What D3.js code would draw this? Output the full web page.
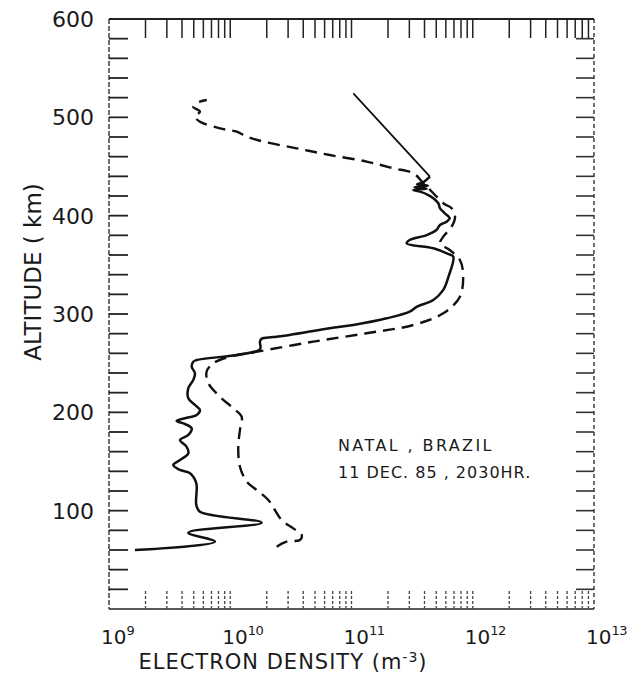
<!DOCTYPE html>
<html>
<head>
<meta charset="utf-8">
<script src="https://cdn.jsdelivr.net/npm/d3@7"></script>
<style>
  body { margin: 0; background: #fff; }
  text { font-family: "DejaVu Sans", sans-serif; fill: #1a1a1a; }
</style>
</head>
<body>
<svg width="628" height="681"></svg>
<script>
// altitude (km) and log10 electron density (m^-3)
const solidAlt = [60, 68.5, 77.6, 87.8, 99, 105.8, 127.8, 138, 141.4, 146.4, 151.5, 158.3, 165, 171.9, 177,
  183.8, 188.8, 191.2, 194, 197.3, 202.4, 207.5, 214.3, 224.5, 232.9, 239.7, 246.4, 251.5, 253.2, 258.3,
  263.4, 266, 272, 275, 276.5, 278.7, 285.5, 288.8, 295.6, 302.4, 307.5, 314.3, 324.5, 338, 358.3, 361,
  366.8, 371.9, 375.3, 380.3, 385.4, 390.5, 393.9, 397.3, 402.4, 407.5, 412.6, 417.7, 421, 424.4,
  426, 427.5, 429, 430.5, 432, 434.2, 439.7, 524.4];
const solidLogNe = [9.214, 9.874, 9.654, 10.259, 9.75, 9.72, 9.72, 9.668, 9.586, 9.53, 9.586, 9.654, 9.64, 9.586, 9.654,
  9.682, 9.613, 9.558, 9.627, 9.723, 9.75, 9.709, 9.654, 9.654, 9.695, 9.709, 9.682, 9.695, 9.723, 10.053,
  10.24, 10.25, 10.245, 10.26, 10.35, 10.49, 10.82, 11.015, 11.29, 11.48, 11.54, 11.675, 11.757, 11.80, 11.84, 11.80,
  11.675, 11.455, 11.48, 11.62, 11.70, 11.73, 11.785, 11.81, 11.77, 11.73, 11.716, 11.675, 11.634, 11.565,
  11.51, 11.62, 11.52, 11.63, 11.54, 11.593, 11.647, 11.015];

const dashAlt = [63.4, 68.5, 70.2, 75.3, 82, 90.5, 110.8, 121, 129.5, 144.7, 165, 182, 195.6, 204.1, 215.9,
  229.5, 241.3, 249.9, 256.6, 261.7, 271.9, 280.4, 288.8, 300.7, 317.6, 341.4, 354.9, 365.1, 371.9, 378.6,
  388.8, 399, 407.5, 412.6, 422.8, 433, 443.1, 448.2, 455, 461.7, 468.5, 475.3, 480.4, 485.4, 488.8,
  495.6, 500.7, 505.8, 510.8, 515.9, 517.6];
const dashLogNe = [10.383, 10.465, 10.575, 10.589, 10.52, 10.424, 10.314, 10.218, 10.136, 10.08, 10.066, 10.08, 10.094, 10.025, 9.915,
  9.82, 9.805, 9.86, 9.998, 10.225, 10.685, 11.125, 11.51, 11.757, 11.894, 11.92, 11.894, 11.81, 11.73, 11.757,
  11.826, 11.854, 11.826, 11.757, 11.675, 11.593, 11.51, 11.345, 11.125, 10.82, 10.548, 10.273, 10.136, 10.053, 9.915,
  9.75, 9.709, 9.75, 9.695, 9.75, 9.806];

const altLabels = [100, 200, 300, 400, 500, 600];
const decadeExps = [9, 10, 11, 12, 13];
const noteLines = ['NATAL , BRAZIL', '11 DEC. 85 , 2030HR.'];

const svg = d3.select('svg');
const mLeft = 109, mRight = 594, mTop = 19, mBottom = 609;

const x = d3.scaleLog().domain([1e9, 1e13]).range([mLeft, mRight]);
const y = d3.scaleLinear().domain([0, 600]).range([mBottom, mTop]);

const toPts = (alts, logs) => alts.map((a, i) => [Math.pow(10, logs[i]), a]);
const solid = toPts(solidAlt, solidLogNe);
const dashed = toPts(dashAlt, dashLogNe);

// frame
const frame = svg.append('g').attr('fill', 'none').attr('stroke', '#222');
frame.append('line').attr('x1', mLeft).attr('x2', mRight).attr('y1', mTop).attr('y2', mTop).attr('stroke-width', 2);
frame.append('line').attr('x1', mLeft).attr('x2', mRight).attr('y1', mBottom).attr('y2', mBottom).attr('stroke-width', 1.6);
frame.append('line').attr('x1', mLeft).attr('x2', mLeft).attr('y1', mTop).attr('y2', mBottom)
  .attr('stroke-width', 1.3).attr('stroke-dasharray', '5,2');
frame.append('line').attr('x1', mRight).attr('x2', mRight).attr('y1', mTop).attr('y2', mBottom)
  .attr('stroke-width', 1.3).attr('stroke-dasharray', '4,3');

// altitude ticks every 20 km, both sides, pointing inward
const altTicks = d3.range(20, 600, 20);
svg.append('g').selectAll('line').data(altTicks).join('line')
  .attr('x1', mLeft).attr('x2', mLeft + 19)
  .attr('y1', d => y(d)).attr('y2', d => y(d))
  .attr('stroke', '#222').attr('stroke-width', 1.8);
svg.append('g').selectAll('line').data(altTicks).join('line')
  .attr('x1', mRight).attr('x2', mRight - 18)
  .attr('y1', d => y(d)).attr('y2', d => y(d))
  .attr('stroke', '#333').attr('stroke-width', 1.6);

// log ticks top and bottom
const logTicks = [];
decadeExps.slice(0, 4).forEach(e => { for (let k = 1; k <= 9; k++) logTicks.push(k * Math.pow(10, e)); });
const innerTicks = logTicks.filter(d => d > 1e9 && d < 1e13);
svg.append('g').selectAll('line').data(innerTicks).join('line')
  .attr('x1', d => x(d)).attr('x2', d => x(d))
  .attr('y1', mTop).attr('y2', mTop + 19)
  .attr('stroke', '#222').attr('stroke-width', 1.5);
svg.append('g').selectAll('line').data(innerTicks).join('line')
  .attr('x1', d => x(d)).attr('x2', d => x(d))
  .attr('y1', mBottom).attr('y2', mBottom - 18)
  .attr('stroke', '#444').attr('stroke-width', 1.3).attr('stroke-dasharray', '3,2');

// y labels
svg.append('g').selectAll('text').data(altLabels).join('text')
  .attr('x', 94).attr('y', d => y(d) + 8)
  .attr('text-anchor', 'end').attr('font-size', 22)
  .text(d => d);

// x labels: 10 with superscript exponent
const xl = svg.append('g').selectAll('text').data(decadeExps).join('text')
  .attr('x', d => x(Math.pow(10, d)) - 8).attr('y', 644)
  .attr('font-size', 20).attr('text-anchor', 'start');
xl.append('tspan').text('10');
xl.append('tspan').attr('dy', -9).attr('font-size', 13).attr('letter-spacing', -0.5).text(d => d);

// axis titles
svg.append('text')
  .attr('transform', 'translate(41,272) rotate(-90)')
  .attr('text-anchor', 'middle').attr('font-size', 23)
  .text('ALTITUDE ( km)');

const xt = svg.append('text').attr('x', 283).attr('y', 669)
  .attr('text-anchor', 'middle').attr('font-size', 21).attr('letter-spacing', 1);
xt.append('tspan').text('ELECTRON DENSITY (m');
xt.append('tspan').attr('dy', -7).attr('font-size', 14).text('-3');
xt.append('tspan').attr('dy', 7).text(')');

// note
svg.append('g').selectAll('text').data(noteLines).join('text')
  .attr('x', 338).attr('y', (d, i) => 451 + i * 27)
  .attr('font-size', 16).attr('letter-spacing', (d, i) => i ? 1 : 2.4)
  .text(d => d);

// profiles
const line = d3.line()
  .x(d => x(d[0])).y(d => y(d[1]))
  .curve(d3.curveCatmullRom.alpha(0.5));

svg.append('path').datum(dashed)
  .attr('d', line).attr('fill', 'none')
  .attr('stroke', '#111').attr('stroke-width', 2.4)
  .attr('stroke-dasharray', '12,7');

svg.append('path').datum(solid.slice(0, solid.length - 1))
  .attr('d', line).attr('fill', 'none')
  .attr('stroke', '#111').attr('stroke-width', 2.5).attr('stroke-linejoin', 'round');

svg.append('path').datum(solid.slice(solid.length - 2))
  .attr('d', d3.line().x(d => x(d[0])).y(d => y(d[1])))
  .attr('fill', 'none').attr('stroke', '#111').attr('stroke-width', 1.8);
</script>
</body>
</html>
